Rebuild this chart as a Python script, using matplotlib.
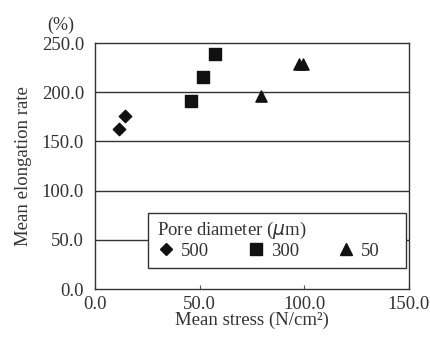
import matplotlib.pyplot as plt
from matplotlib.lines import Line2D
from matplotlib.patches import Rectangle

plt.rcParams['font.family'] = ['Liberation Serif', 'DejaVu Serif']

# pore diameter groups
d500_x = [11.5, 14.3]
d500_y = [162.5, 175.5]
d300_x = [45.9, 51.8, 57.3]
d300_y = [191.0, 215.0, 238.5]
d50_x = [79.2, 97.5, 99.5]
d50_y = [196.5, 229.0, 229.0]

xticks = [0, 50, 100, 150]
yticks = [0, 50, 100, 150, 200, 250]

fig = plt.figure(figsize=(4.31, 3.41), dpi=100)
ax = fig.add_axes([95 / 431, 1 - 289 / 341, 314 / 431, 246 / 341])

for y in yticks[1:-1]:
    ax.axhline(y, color='#333333', lw=1.0, zorder=1)

ax.scatter(d500_x, d500_y, marker='D', s=40, color='#111111', zorder=3)
ax.scatter(d300_x, d300_y, marker='s', s=75, color='#111111', zorder=3)
ax.scatter(d50_x, d50_y, marker='^', s=65, color='#111111', zorder=3)

ax.set_xlim(0, 150)
ax.set_ylim(0, 250)
ax.set_xticks(xticks)
ax.set_xticklabels(['%.1f' % v for v in xticks])
ax.set_yticks(yticks)
ax.set_yticklabels(['%.1f' % v for v in yticks])
ax.tick_params(axis='x', direction='in', length=3, labelsize=13.5, color='#555555',
               pad=5, labelcolor='#333333')
ax.tick_params(axis='y', length=0, labelsize=13.5, pad=8, labelcolor='#333333')
for s in ax.spines.values():
    s.set_color('#333333')
    s.set_linewidth(1.0)

ax.set_xlabel('Mean stress (N/cm²)', fontsize=13.5, color='#333333', labelpad=-1)
ax.set_ylabel('Mean elongation rate', fontsize=13.5, color='#333333', labelpad=7)
ax.text(-0.11, 1.035, '(%)', transform=ax.transAxes, fontsize=13, color='#333333',
        ha='center', va='bottom')

# legend box drawn separately so it can be wider than its content
box = Rectangle((53 / 314, 21 / 246), 258 / 314, 55 / 246, transform=ax.transAxes,
                facecolor='white', edgecolor='#333333', lw=1.0, zorder=2)
ax.add_patch(box)

handles = [
    Line2D([], [], marker='D', color='#111111', ls='none', markersize=6.5, label='500'),
    Line2D([], [], marker='s', color='#111111', ls='none', markersize=8.5, label='300'),
    Line2D([], [], marker='^', color='#111111', ls='none', markersize=8.5, label='50'),
]
leg = ax.legend(handles=handles, ncol=3, title='Pore diameter ($\\mu$m)',
                loc='upper left', bbox_to_anchor=(55 / 314, 76 / 246),
                borderaxespad=0, fontsize=13.5, title_fontsize=13.5, frameon=False,
                handletextpad=0.3, borderpad=0.35, labelspacing=0.1, handlelength=1.0,
                columnspacing=2.0)
leg._legend_box.align = 'left'
for t in leg.get_texts():
    t.set_color('#333333')
leg.get_title().set_color('#333333')
leg.set_zorder(4)

fig.savefig('out.png', dpi=100)
